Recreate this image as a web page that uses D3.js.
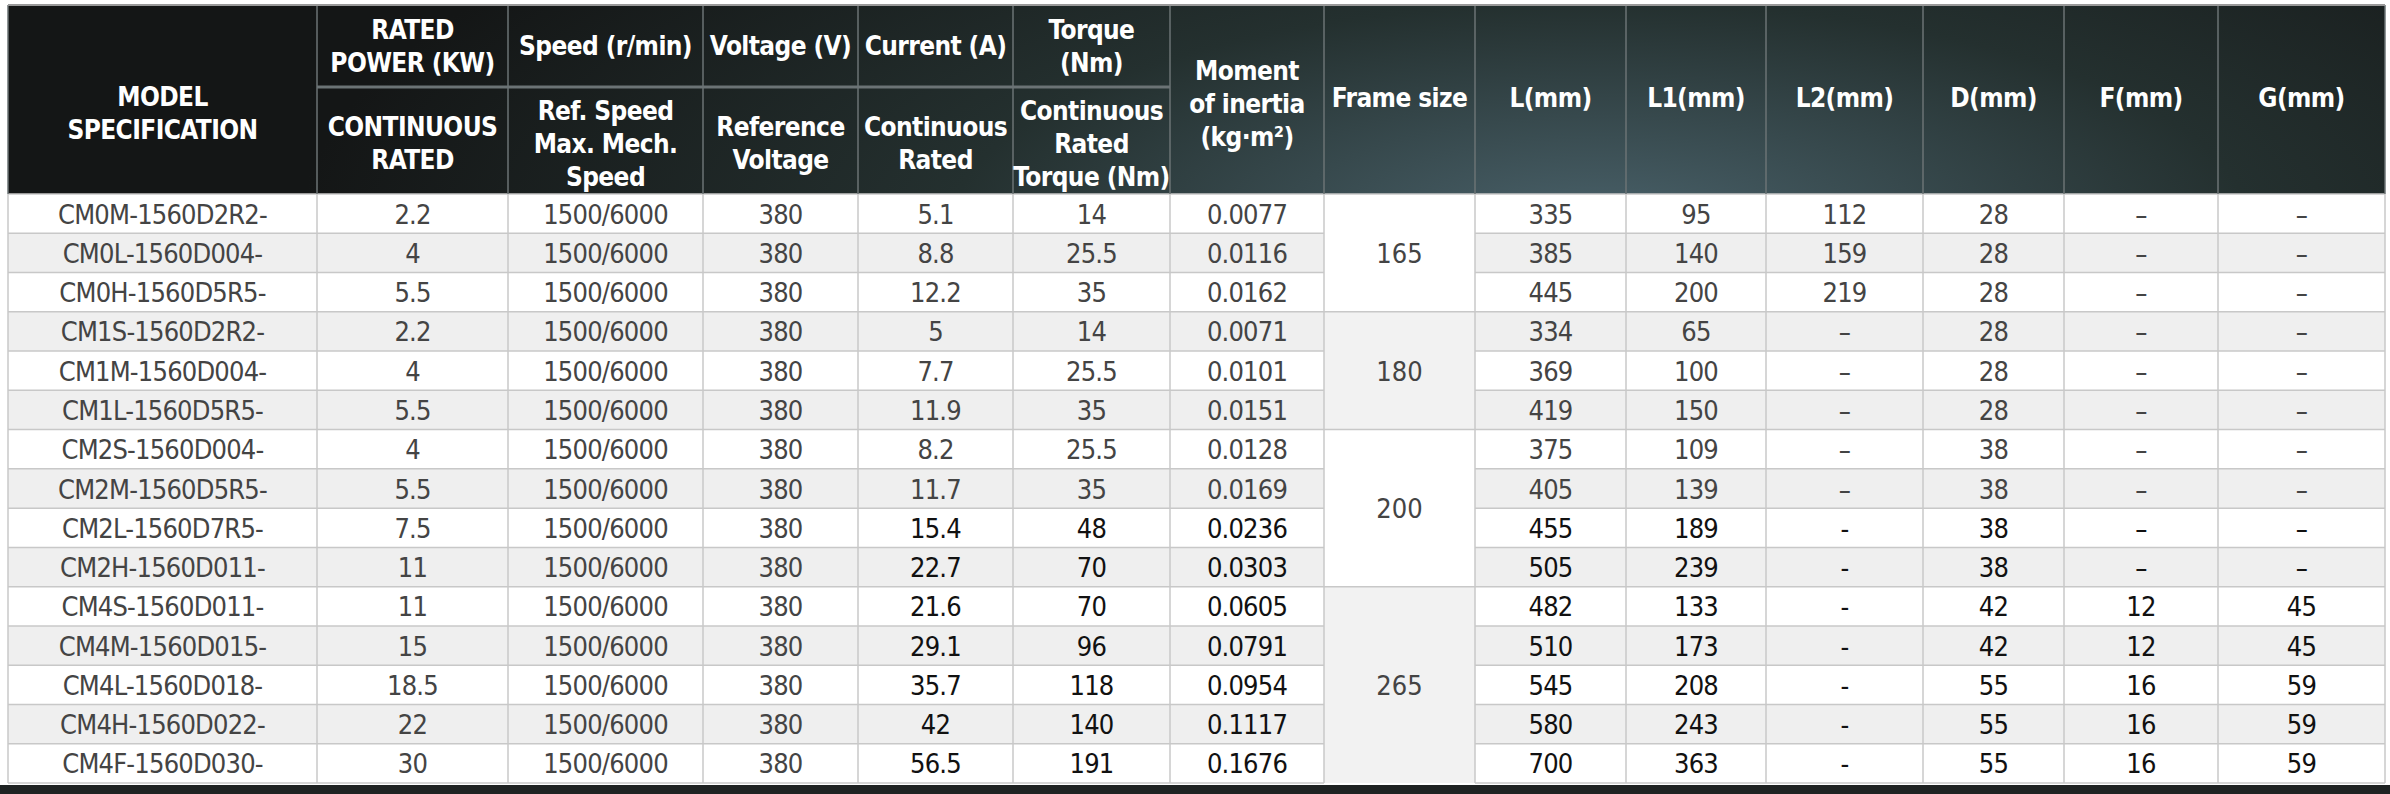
<!DOCTYPE html><html><head><meta charset="utf-8">
<script src="https://cdn.jsdelivr.net/npm/d3@7"></script>
<style>body{margin:0;background:#fff}</style></head><body><svg id="c" width="2390" height="794"></svg>
<script>
const models=["CM0M-1560D2R2-","CM0L-1560D004-","CM0H-1560D5R5-","CM1S-1560D2R2-","CM1M-1560D004-","CM1L-1560D5R5-","CM2S-1560D004-","CM2M-1560D5R5-","CM2L-1560D7R5-","CM2H-1560D011-","CM4S-1560D011-","CM4M-1560D015-","CM4L-1560D018-","CM4H-1560D022-","CM4F-1560D030-"];
const power=["2.2","4","5.5","2.2","4","5.5","4","5.5","7.5","11","11","15","18.5","22","30"];
const speed=Array(15).fill("1500/6000");
const voltage=Array(15).fill("380");
const current=["5.1","8.8","12.2","5","7.7","11.9","8.2","11.7","15.4","22.7","21.6","29.1","35.7","42","56.5"];
const torque=["14","25.5","35","14","25.5","35","25.5","35","48","70","70","96","118","140","191"];
const inertia=["0.0077","0.0116","0.0162","0.0071","0.0101","0.0151","0.0128","0.0169","0.0236","0.0303","0.0605","0.0791","0.0954","0.1117","0.1676"];
const frames=[{v:"165",s:0,n:3},{v:"180",s:3,n:3},{v:"200",s:6,n:4},{v:"265",s:10,n:5}];
const L=["335","385","445","334","369","419","375","405","455","505","482","510","545","580","700"];
const L1=["95","140","200","65","100","150","109","139","189","239","133","173","208","243","363"];
const L2=["112","159","219","–","–","–","–","–","-","-","-","-","-","-","-"];
const D=["28","28","28","28","28","28","38","38","38","38","42","42","55","55","55"];
const F=["–","–","–","–","–","–","–","–","–","–","12","12","16","16","16"];
const G=["–","–","–","–","–","–","–","–","–","–","45","45","59","59","59"];
const hdrTop=[["RATED","POWER (KW)"],["Speed (r/min)"],["Voltage (V)"],["Current (A)"],["Torque","(Nm)"]];
const hdrBot=[["CONTINUOUS","RATED"],["Ref. Speed","Max. Mech.","Speed"],["Reference","Voltage"],["Continuous","Rated"],["Continuous","Rated","Torque (Nm)"]];
const hdrFull=[["MODEL","SPECIFICATION"],["Moment","of inertia","(kg·m²)"],["Frame size"],["L(mm)"],["L1(mm)"],["L2(mm)"],["D(mm)"],["F(mm)"],["G(mm)"]];
const edges=[8,317,508,703,858,1013,1170,1324,1475,1626,1766,1923,2064,2218,2385];
const svg=d3.select("#c");
const defs=svg.append("defs");
const rg=defs.append("radialGradient").attr("id","g").attr("gradientUnits","userSpaceOnUse").attr("cx",1600).attr("cy",230).attr("r",1300).attr("gradientTransform","translate(1600,230) scale(1,0.35) translate(-1600,-230)");
rg.append("stop").attr("offset",0).attr("stop-color","#4a626b");
rg.append("stop").attr("offset",0.5).attr("stop-color","#24302f");
rg.append("stop").attr("offset",1).attr("stop-color","#141616");
const hy0=5,hyM=87,hy1=194,yB=783;
const y=d3.scaleBand().domain(d3.range(15)).range([hy1,yB]);
const x=i=>edges[i], w=i=>edges[i+1]-edges[i];
svg.append("rect").attr("x",edges[0]).attr("y",hy0).attr("width",edges[14]-edges[0]).attr("height",hy1-hy0).attr("fill","url(#g)");
svg.append("rect").attr("x",0).attr("y",785).attr("width",2390).attr("height",9).attr("fill","#1e2222");
const rowFill=i=>i%2?"#efefef":"#ffffff";
const cols=[models,power,speed,voltage,current,torque,inertia,null,L,L1,L2,D,F,G];
d3.range(15).forEach(r=>{
  svg.append("rect").attr("x",edges[0]).attr("y",y(r)).attr("width",edges[14]-edges[0]).attr("height",y.bandwidth()).attr("fill",rowFill(r));
});
frames.forEach((f,k)=>{
  svg.append("rect").attr("x",x(7)).attr("y",y(f.s)).attr("width",w(7)).attr("height",y.bandwidth()*f.n).attr("fill",k%2?"#f2f2f2":"#fff");
});
const grid=svg.append("g").attr("stroke","#c8c8c8").attr("stroke-width",1.5);
edges.forEach(e=>grid.append("line").attr("x1",e).attr("x2",e).attr("y1",hy1).attr("y2",yB));
d3.range(16).forEach(r=>{
  const yy=r<15?y(r):yB;
  [[0,7],[8,14]].forEach(([a,b])=>grid.append("line").attr("x1",edges[a]).attr("x2",edges[b]).attr("y1",yy).attr("y2",yy));
});
frames.forEach(f=>{grid.append("line").attr("x1",x(7)).attr("x2",x(8)).attr("y1",y(f.s)).attr("y2",y(f.s));});
const hg=svg.append("g").attr("stroke","#6b7375").attr("stroke-width",1.5);
edges.forEach(e=>hg.append("line").attr("x1",e).attr("x2",e).attr("y1",hy0).attr("y2",hy1));
hg.append("line").attr("x1",x(1)).attr("x2",x(6)).attr("y1",hyM).attr("y2",hyM).attr("stroke-width",3);
svg.append("line").attr("x1",edges[0]).attr("x2",edges[14]).attr("y1",hy0).attr("y2",hy0).attr("stroke","#999").attr("stroke-width",2);
function txt(lines,cx,cy,size,lh){
  const t=svg.append("text").attr("text-anchor","middle").attr("fill","#fff").attr("font-family","'DejaVu Sans Condensed','Open Sans',sans-serif").attr("font-weight","bold").attr("font-size",size).attr("letter-spacing",-0.6);
  lines.forEach((l,i)=>t.append("tspan").attr("x",cx).attr("y",cy+(i-(lines.length-1)/2)*lh+size*0.36).text(l));
}
hdrTop.forEach((l,i)=>txt(l,x(i+1)+w(i+1)/2,(hy0+hyM)/2,26,33));
hdrBot.forEach((l,i)=>txt(l,x(i+1)+w(i+1)/2,(hyM+hy1)/2+3,26,33));
const fullIdx=[0,6,7,8,9,10,11,12,13];
hdrFull.forEach((l,k)=>txt(l,x(fullIdx[k])+w(fullIdx[k])/2,(hy0+hy1)/2+(k==0?14:(k==1?4:-2)),26,33));
cols.forEach((arr,c)=>{
  if(!arr) return;
  svg.append("g").selectAll("text").data(arr).join("text").attr("x",x(c)+w(c)/2).attr("y",(d,r)=>y(r)+y.bandwidth()/2+10)
   .attr("text-anchor","middle").attr("font-family","'DejaVu Sans Condensed','DejaVu Sans',sans-serif").attr("font-size",27)
   .attr("fill",(d,r)=>(r>=8&&c>=4)?"#111":"#444").attr("letter-spacing",-0.8).text(d=>d);
});
svg.append("g").selectAll("text").data(frames).join("text").attr("x",x(7)+w(7)/2).attr("y",f=>y(f.s)+y.bandwidth()*f.n/2+10)
 .attr("text-anchor","middle").attr("font-family","'DejaVu Sans Condensed',sans-serif").attr("font-size",27).attr("fill","#444").text(f=>f.v);
</script></body></html>
